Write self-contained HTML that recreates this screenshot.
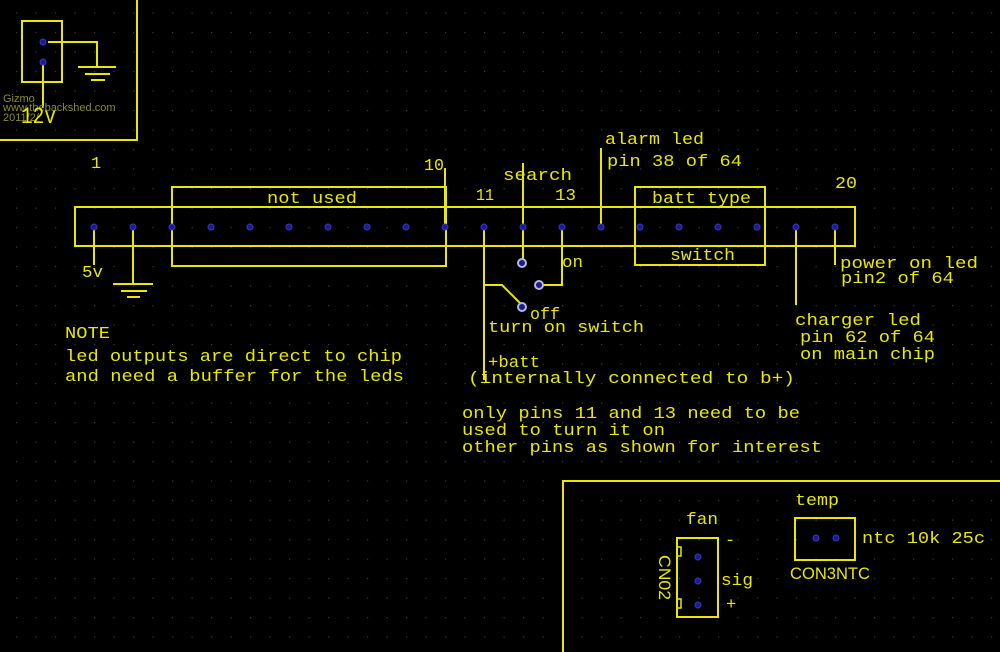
<!DOCTYPE html>
<html><head><meta charset="utf-8"><style>
html,body{margin:0;padding:0;background:#000;}
svg{display:block}
text{font-family:"Liberation Mono",monospace;fill:#e8e800;font-size:17px}
</style></head><body>
<svg width="1000" height="652" viewBox="0 0 1000 652" xmlns="http://www.w3.org/2000/svg">
<defs>
<pattern id="g" x="16" y="12.5" width="19.5" height="19.5" patternUnits="userSpaceOnUse">
<rect x="0" y="0" width="1.2" height="1.2" fill="#3a3a3a"/>
</pattern>
</defs>
<rect width="1000" height="652" fill="#000"/>
<rect width="1000" height="652" fill="url(#g)"/>
<g stroke="#e8e800" stroke-width="2" fill="none">
<polyline points="0,140 137,140 137,0"/>
<rect x="22" y="21" width="40" height="61"/>
<polyline points="48,42 97,42 97,67"/>
<line x1="78" y1="67" x2="116" y2="67"/><line x1="85" y1="74" x2="110" y2="74"/><line x1="91" y1="80" x2="105" y2="80"/>
<line x1="43" y1="62" x2="43" y2="108"/>
<rect x="75" y="207" width="780" height="39"/>
<rect x="172" y="187" width="274" height="79"/>
<line x1="445" y1="227" x2="445" y2="168"/>
<rect x="635" y="187" width="130" height="78"/>
<line x1="94" y1="227" x2="94" y2="265"/>
<line x1="133" y1="227" x2="133" y2="284"/>
<line x1="113" y1="284" x2="153" y2="284"/><line x1="121" y1="291" x2="147" y2="291"/><line x1="127" y1="297" x2="140" y2="297"/>
<line x1="601" y1="227" x2="601" y2="148"/>
<line x1="835" y1="227" x2="835" y2="265"/>
<line x1="796" y1="227" x2="796" y2="305"/>
<line x1="523" y1="163" x2="523" y2="263"/>
<polyline points="562,227 562,285 540,285"/>
<polyline points="484,227 484,380"/>
<polyline points="484,285 502,285 522,305"/>
<polyline points="563,652 563,481 1000,481"/>
<rect x="677" y="538" width="41" height="79"/>
<rect x="677" y="547" width="4" height="9" stroke-width="1.5"/>
<rect x="677" y="599" width="4" height="9" stroke-width="1.5"/>
<rect x="795" y="518" width="60" height="42"/>
</g>
<g fill="#1a1a9a" stroke="#3a3ab0" stroke-width="1">
<circle cx="43" cy="42" r="3"/><circle cx="43" cy="62" r="3"/>
<circle cx="94" cy="227" r="3"/><circle cx="133" cy="227" r="3"/><circle cx="172" cy="227" r="3"/><circle cx="211" cy="227" r="3"/><circle cx="250" cy="227" r="3"/><circle cx="289" cy="227" r="3"/><circle cx="328" cy="227" r="3"/><circle cx="367" cy="227" r="3"/><circle cx="406" cy="227" r="3"/><circle cx="445" cy="227" r="3"/><circle cx="484" cy="227" r="3"/><circle cx="523" cy="227" r="3"/><circle cx="562" cy="227" r="3"/><circle cx="601" cy="227" r="3"/><circle cx="640" cy="227" r="3"/><circle cx="679" cy="227" r="3"/><circle cx="718" cy="227" r="3"/><circle cx="757" cy="227" r="3"/><circle cx="796" cy="227" r="3"/><circle cx="835" cy="227" r="3"/>
<circle cx="698" cy="557" r="3"/><circle cx="698" cy="581" r="3"/><circle cx="698" cy="605" r="3"/>
<circle cx="816" cy="538" r="3"/><circle cx="836" cy="538" r="3"/>
</g>
<g fill="#1a1a9a" stroke="#b8b8d8" stroke-width="2">
<circle cx="522" cy="263" r="4"/><circle cx="539" cy="285" r="4"/><circle cx="522" cy="307" r="4"/>
</g>
<text x="3" y="102" style="fill:#8a8a30;font-family:'Liberation Sans',sans-serif;font-size:11px">Gizmo</text>
<text x="3" y="111" style="fill:#8a8a30;font-family:'Liberation Sans',sans-serif;font-size:11px">www.thebackshed.com</text>
<text x="3" y="121" style="fill:#8a8a30;font-family:'Liberation Sans',sans-serif;font-size:11px">2011/2/</text>
<text x="21" y="123" textLength="35" lengthAdjust="spacingAndGlyphs" style="font-size:23px">12v</text>
<text x="91" y="168">1</text>
<text x="424" y="170" textLength="20" lengthAdjust="spacingAndGlyphs">10</text>
<text x="476" y="200" textLength="18" lengthAdjust="spacingAndGlyphs">11</text>
<text x="555" y="200" textLength="21" lengthAdjust="spacingAndGlyphs">13</text>
<text x="835" y="188" textLength="22" lengthAdjust="spacingAndGlyphs">20</text>
<text x="503" y="180" textLength="69" lengthAdjust="spacingAndGlyphs">search</text>
<text x="267" y="203" textLength="90" lengthAdjust="spacingAndGlyphs">not used</text>
<text x="652" y="203" textLength="99" lengthAdjust="spacingAndGlyphs">batt type</text>
<text x="670" y="260" textLength="65" lengthAdjust="spacingAndGlyphs">switch</text>
<text x="605" y="144" textLength="99" lengthAdjust="spacingAndGlyphs">alarm led</text>
<text x="607" y="166" textLength="135" lengthAdjust="spacingAndGlyphs">pin 38 of 64</text>
<text x="82" y="277" textLength="21" lengthAdjust="spacingAndGlyphs">5v</text>
<text x="562" y="267" textLength="21" lengthAdjust="spacingAndGlyphs">on</text>
<text x="530" y="319" textLength="30" lengthAdjust="spacingAndGlyphs">off</text>
<text x="488" y="332" textLength="156" lengthAdjust="spacingAndGlyphs">turn on switch</text>
<text x="488" y="367" textLength="52" lengthAdjust="spacingAndGlyphs">+batt</text>
<text x="468" y="383" textLength="327" lengthAdjust="spacingAndGlyphs">(internally connected to b+)</text>
<text x="462" y="418" textLength="338" lengthAdjust="spacingAndGlyphs">only pins 11 and 13 need to be</text>
<text x="462" y="435" textLength="203" lengthAdjust="spacingAndGlyphs">used to turn it on</text>
<text x="462" y="452" textLength="360" lengthAdjust="spacingAndGlyphs">other pins as shown for interest</text>
<text x="840" y="268" textLength="138" lengthAdjust="spacingAndGlyphs">power on led</text>
<text x="841" y="283" textLength="113" lengthAdjust="spacingAndGlyphs">pin2 of 64</text>
<text x="795" y="325" textLength="126" lengthAdjust="spacingAndGlyphs">charger led</text>
<text x="800" y="342" textLength="135" lengthAdjust="spacingAndGlyphs">pin 62 of 64</text>
<text x="800" y="359" textLength="135" lengthAdjust="spacingAndGlyphs">on main chip</text>
<text x="65" y="338" textLength="45" lengthAdjust="spacingAndGlyphs">NOTE</text>
<text x="65" y="361" textLength="337" lengthAdjust="spacingAndGlyphs">led outputs are direct to chip</text>
<text x="65" y="381" textLength="339" lengthAdjust="spacingAndGlyphs">and need a buffer for the leds</text>
<text x="795" y="505" textLength="44" lengthAdjust="spacingAndGlyphs">temp</text>
<text x="686" y="524" textLength="32" lengthAdjust="spacingAndGlyphs">fan</text>
<text x="725" y="545">-</text>
<text x="721" y="585" textLength="32" lengthAdjust="spacingAndGlyphs">sig</text>
<text x="726" y="609">+</text>
<text x="862" y="543" textLength="123" lengthAdjust="spacingAndGlyphs">ntc 10k 25c</text>
<text x="790" y="579" textLength="80" lengthAdjust="spacingAndGlyphs" style="font-family:'Liberation Sans',sans-serif">CON3NTC</text>
<text x="0" y="0" textLength="45" lengthAdjust="spacingAndGlyphs" transform="translate(659,555) rotate(90)" style="font-family:'Liberation Sans',sans-serif">CN02</text>
</svg>
</body></html>
